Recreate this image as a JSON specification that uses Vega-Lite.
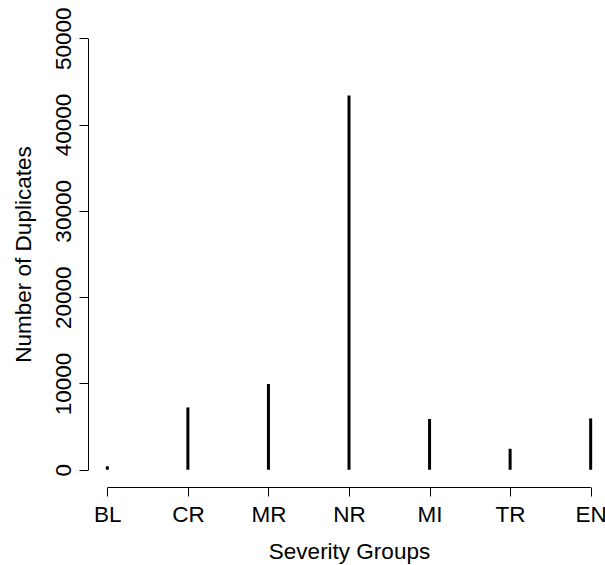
{
  "$schema": "https://vega.github.io/schema/vega-lite/v6.json",
  "autosize": "none",
  "width": 522,
  "height": 466,
  "padding": {"left": 88, "top": 21, "right": 0, "bottom": 78},
  "background": "white",
  "config": {
    "view": {"stroke": null},
    "font": "Liberation Sans",
    "axis": {"grid": false}
  },
  "data": {
    "values": [
      {"group": "BL", "value": 400},
      {"group": "CR", "value": 7220},
      {"group": "MR", "value": 9930},
      {"group": "NR", "value": 43360},
      {"group": "MI", "value": 5880},
      {"group": "TR", "value": 2430},
      {"group": "EN", "value": 5950}
    ]
  },
  "mark": {"type": "rule", "strokeWidth": 3, "color": "black"},
  "encoding": {
    "x": {
      "field": "group",
      "type": "nominal",
      "sort": ["BL", "CR", "MR", "NR", "MI", "TR", "EN"],
      "scale": {"type": "point", "padding": 0.24},
      "axis": {
        "title": "Severity Groups",
        "titleFont": "Liberation Sans",
        "titleFontSize": 22.5,
        "titleFontWeight": "normal",
        "titleColor": "black",
        "titlePadding": 15,
        "labelFont": "Liberation Sans",
        "labelFontSize": 22.5,
        "labelColor": "black",
        "labelAngle": 0,
        "labelBaseline": "top",
        "labelPadding": 7,
        "tickSize": 9,
        "tickColor": "black",
        "domainColor": "black",
        "domainDash": [0, 19.3, 483, 200]
      }
    },
    "y": {
      "field": "value",
      "type": "quantitative",
      "scale": {"domain": [-2000, 52000], "nice": false, "zero": false},
      "axis": {
        "title": "Number of Duplicates",
        "titleFont": "Liberation Sans",
        "titleFontSize": 22.5,
        "titleFontWeight": "normal",
        "titleColor": "black",
        "titlePadding": 22,
        "titleBaseline": "alphabetic",
        "values": [0, 10000, 20000, 30000, 40000, 50000],
        "format": "d",
        "labelFont": "Liberation Sans",
        "labelFontSize": 22.5,
        "labelColor": "black",
        "labelAngle": -90,
        "labelAlign": "center",
        "labelBaseline": "alphabetic",
        "labelPadding": 9,
        "tickSize": 9,
        "tickColor": "black",
        "domainColor": "black",
        "domainDash": [0, 17.25, 431.3, 200]
      }
    },
    "y2": {"datum": 0}
  }
}
